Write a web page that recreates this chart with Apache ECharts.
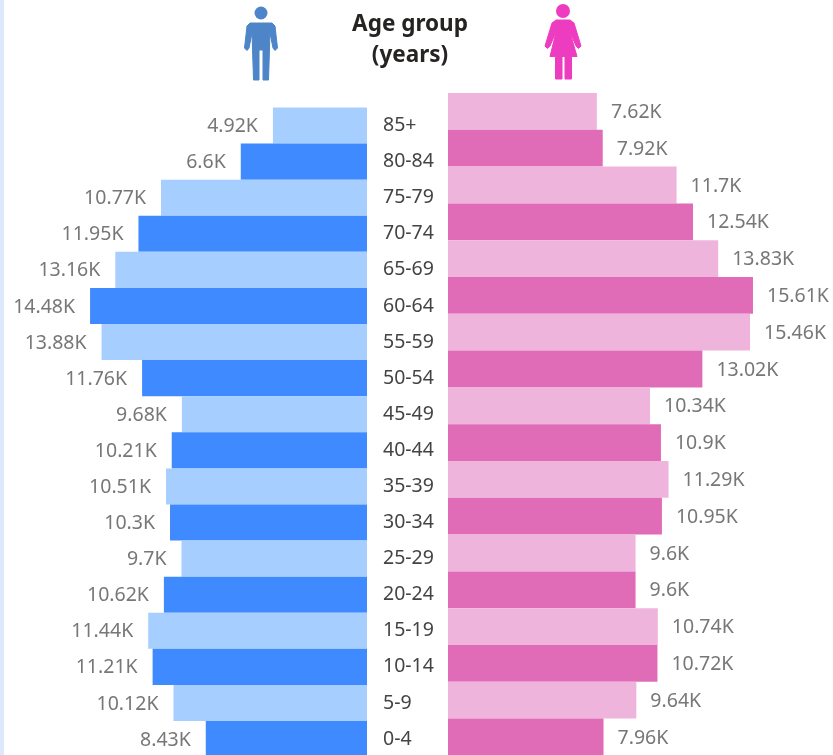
<!DOCTYPE html>
<html>
<head>
<meta charset="utf-8">
<style>
  html, body { margin: 0; padding: 0; background: #fff; }
  #main { width: 833px; height: 755px; }
</style>
<script src="https://cdn.jsdelivr.net/npm/echarts@6/dist/echarts.min.js"></script>
</head>
<body>
<div id="main"></div>
<script>
const ageGroups = ['85+', '80-84', '75-79', '70-74', '65-69', '60-64', '55-59', '50-54', '45-49',
  '40-44', '35-39', '30-34', '25-29', '20-24', '15-19', '10-14', '5-9', '0-4']
const male = [4.92, 6.6, 10.77, 11.95, 13.16, 14.48, 13.88, 11.76, 9.68,
  10.21, 10.51, 10.3, 9.7, 10.62, 11.44, 11.21, 10.12, 8.43]
const female = [7.62, 7.92, 11.7, 12.54, 13.83, 15.61, 15.46, 13.02, 10.34,
  10.9, 11.29, 10.95, 9.6, 9.6, 10.74, 10.72, 9.64, 7.96]

const maleColors = ['#a6cfff', '#3f8aff']
const femaleColors = ['#efb4dc', '#e06cb8']
const font = '"Noto Sans", sans-serif'

// icon outlines, page pixels
const manBody = [[250, 23], [272, 23], [275, 26], [277.5, 48], [275, 50.5], [273, 48], [270, 33], [268.5, 80],
  [263, 80], [263, 50], [259, 50], [259, 80], [253.5, 80], [252, 33], [249, 48], [247, 50.5], [244.5, 48], [247, 26]]
const womanBody = [[556, 20], [570, 20], [574, 23], [581, 46], [578.5, 48.5], [576, 46], [570, 32], [577, 56.5], [571.5, 56.5], [571.5, 79],
  [565, 79], [565, 56.5], [562, 56.5], [562, 79], [555.5, 79], [555.5, 56.5], [550, 56.5], [556, 32], [550, 46], [547.5, 48.5], [545, 46], [552, 23]]

const myChart = echarts.init(document.getElementById('main'))

const option = {
  animation: false,
  textStyle: { fontFamily: font },
  grid: [
    // the bottom row runs past the page, so no clamping to the canvas
    { left: 61, width: 306, top: 107.5, height: 649.6, outerBoundsMode: 'none' }, // male
    { left: 448, width: 312.6, top: 93, height: 662.4, outerBoundsMode: 'none' }, // female
  ],
  xAxis: [
    { gridIndex: 0, type: 'value', min: 0, max: 16, inverse: true, show: false },
    { gridIndex: 1, type: 'value', min: 0, max: 16, show: false },
  ],
  yAxis: [
    {
      gridIndex: 0,
      type: 'category',
      data: ageGroups,
      inverse: true,
      position: 'right',
      axisLine: { show: false },
      axisTick: { show: false },
      axisLabel: { margin: 16, fontSize: 19.5, color: '#444', align: 'left', fontFamily: font },
    },
    { gridIndex: 1, type: 'category', data: ageGroups, inverse: true, show: false },
  ],
  series: [
    {
      type: 'bar',
      xAxisIndex: 0,
      yAxisIndex: 0,
      data: male,
      barCategoryGap: 0,
      itemStyle: { color: (p) => maleColors[p.dataIndex % 2] },
      label: {
        show: true,
        position: 'left',
        distance: 15,
        offset: [0, 1],
        fontSize: 19.5,
        color: '#777',
        formatter: (p) => p.value + 'K',
      },
    },
    {
      type: 'bar',
      xAxisIndex: 1,
      yAxisIndex: 1,
      data: female,
      barCategoryGap: 0,
      itemStyle: { color: (p) => femaleColors[p.dataIndex % 2] },
      label: {
        show: true,
        position: 'right',
        distance: 14,
        offset: [0, 1],
        fontSize: 19.5,
        color: '#777',
        formatter: (p) => p.value + 'K',
      },
    },
  ],
  graphic: [
    // strip at the left edge of the page
    { type: 'rect', shape: { x: 0, y: 0, width: 4, height: 755 }, style: { fill: '#dce9fd' } },
    {
      type: 'text',
      x: 410,
      y: 9,
      style: {
        text: 'Age group\n(years)',
        align: 'center',
        fill: '#252423',
        font: 'bold 22.5px "Noto Sans", sans-serif',
        lineHeight: 31,
      },
    },
    // man icon
    { type: 'circle', shape: { cx: 261, cy: 13, r: 6.5 }, style: { fill: '#4d85c8' } },
    { type: 'polygon', shape: { points: manBody }, style: { fill: '#4d85c8', stroke: '#4d85c8', lineWidth: 1, lineJoin: 'round' } },
    // woman icon
    { type: 'circle', shape: { cx: 563, cy: 11, r: 7 }, style: { fill: '#ee3cc0' } },
    { type: 'polygon', shape: { points: womanBody }, style: { fill: '#ee3cc0', stroke: '#ee3cc0', lineWidth: 1, lineJoin: 'round' } },
  ],
}

myChart.setOption(option)
</script>
</body>
</html>
